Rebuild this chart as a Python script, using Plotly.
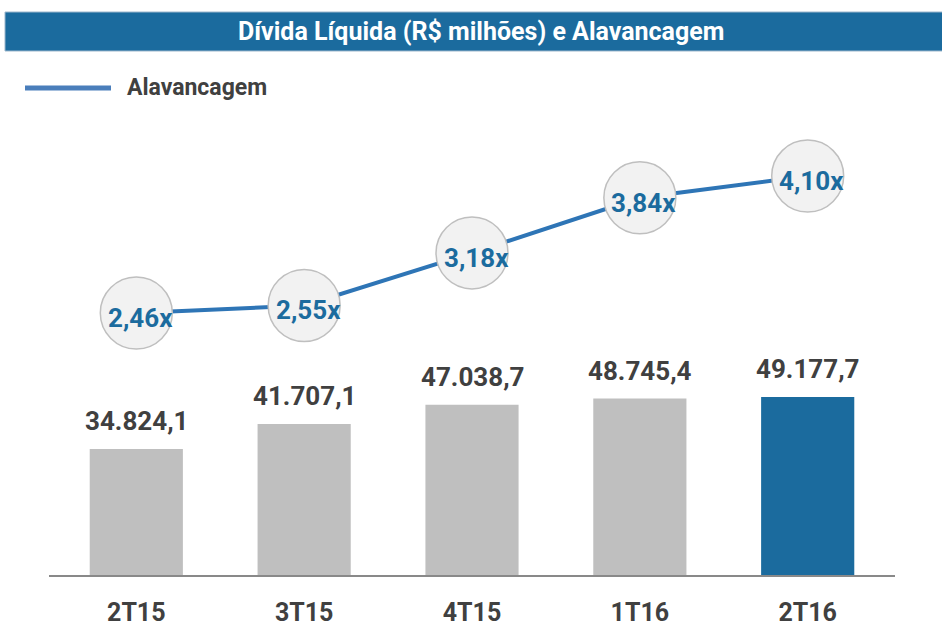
import plotly.graph_objects as go

categories = ["2T15", "3T15", "4T15", "1T16", "2T16"]
divida = [34824.1, 41707.1, 47038.7, 48745.4, 49177.7]
divida_labels = ["34.824,1", "41.707,1", "47.038,7", "48.745,4", "49.177,7"]
alavancagem = [2.46, 2.55, 3.18, 3.84, 4.10]
alav_labels = ["2,46x", "2,55x", "3,18x", "3,84x", "4,10x"]
bar_colors = ["#BFBFBF", "#BFBFBF", "#BFBFBF", "#BFBFBF", "#1B6B9E"]

FONT = "Roboto, Liberation Sans, sans-serif"
DARK = "#404040"
BLUE = "#1B6B9E"

W, H = 942, 629
L, R, T, B = 49, 47, 100, 54
pw, ph = W - L - R, H - T - B

def px(x):
    return (x - L) / pw

def py(y):
    return (H - B - y) / ph

fig = go.Figure()
fig.add_trace(go.Bar(
    x=categories, y=divida, marker=dict(color=bar_colors, line=dict(width=0)),
    width=0.555, yaxis="y", showlegend=False, hoverinfo="skip"))
fig.add_trace(go.Scatter(
    x=categories, y=alavancagem, yaxis="y2", mode="lines+markers",
    line=dict(color="#2E75B6", width=4),
    marker=dict(size=72, color="#F2F2F2", line=dict(color="#BFBFBF", width=1.5)),
    showlegend=False, hoverinfo="skip"))

annotations = []
for c, v, t in zip(categories, divida, divida_labels):
    annotations.append(dict(x=c, y=v, xref="x", yref="y", text=t, showarrow=False,
                            xanchor="center", yanchor="bottom", yshift=11,
                            font=dict(family=FONT, size=26, color=DARK, weight="bold")))
for c, v, t in zip(categories, alavancagem, alav_labels):
    annotations.append(dict(x=c, y=v, xref="x", yref="y2", text=t, showarrow=False,
                            xanchor="center", yanchor="middle", xshift=4, yshift=-5,
                            font=dict(family=FONT, size=26, color=BLUE, weight="bold")))
annotations.append(dict(x=px(480.5), y=py(32), xref="paper", yref="paper",
                        xanchor="center", yanchor="middle",
                        text="Dívida Líquida (R$ milhões) e Alavancagem", showarrow=False,
                        font=dict(family=FONT, size=25, color="white", weight="bold")))
annotations.append(dict(x=px(125), y=py(87), xref="paper", yref="paper",
                        xanchor="left", yanchor="middle",
                        text="Alavancagem", showarrow=False,
                        font=dict(family=FONT, size=23, color=DARK, weight="bold")))

shapes = [
    dict(type="rect", xref="paper", yref="paper", x0=px(5), x1=px(945), y0=py(51), y1=py(12),
         fillcolor=BLUE, line=dict(color="#9DB7CC", width=1), layer="below"),
    dict(type="line", xref="paper", yref="paper", x0=px(25), x1=px(111), y0=py(88), y1=py(88),
         line=dict(color="#4A7EBB", width=5)),
]

fig.update_layout(
    width=W, height=H, margin=dict(l=L, r=R, t=T, b=B, autoexpand=False),
    paper_bgcolor="white", plot_bgcolor="white",
    xaxis=dict(showline=True, linecolor="#898989", linewidth=2, ticks="",
               tickfont=dict(family=FONT, size=25, color=DARK, weight="bold"),
               ticklabelstandoff=14, showgrid=False, zeroline=False, automargin=False),
    yaxis=dict(range=[0, 131215], visible=False, showgrid=False, zeroline=False,
               automargin=False),
    yaxis2=dict(range=[-0.678, 5.011], overlaying="y", visible=False, showgrid=False,
                zeroline=False, automargin=False),
    annotations=annotations, shapes=shapes,
)

fig.write_html("out.html", config={"displayModeBar": False},
               post_script="document.body.style.margin='0';")
